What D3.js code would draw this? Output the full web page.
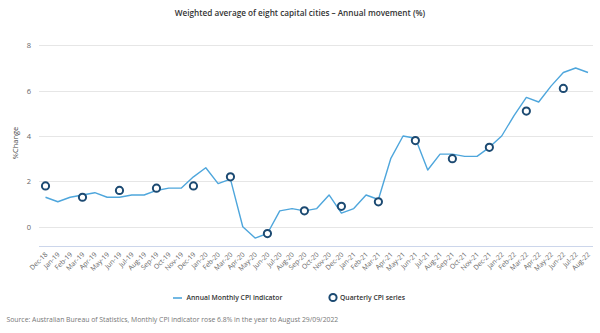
<!DOCTYPE html>
<html><head><meta charset="utf-8">
<script src="https://cdn.jsdelivr.net/npm/d3@7"></script>
<style>
html,body{margin:0;padding:0;background:#fff;}
svg{display:block;font-family:"Open Sans","Noto Sans",sans-serif;}
</style></head>
<body><svg id="c" width="600" height="333"></svg>
<script>
const months = ['Dec-18','Jan-19','Feb-19','Mar-19','Apr-19','May-19','Jun-19','Jul-19','Aug-19','Sep-19','Oct-19','Nov-19','Dec-19',
'Jan-20','Feb-20','Mar-20','Apr-20','May-20','Jun-20','Jul-20','Aug-20','Sep-20','Oct-20','Nov-20','Dec-20',
'Jan-21','Feb-21','Mar-21','Apr-21','May-21','Jun-21','Jul-21','Aug-21','Sep-21','Oct-21','Nov-21','Dec-21',
'Jan-22','Feb-22','Mar-22','Apr-22','May-22','Jun-22','Jul-22','Aug-22'];
const monthly = [1.3,1.1,1.3,1.4,1.5,1.3,1.3,1.4,1.4,1.6,1.7,1.7,2.2,
2.6,1.9,2.1,0.0,-0.5,-0.3,0.7,0.8,0.7,0.8,1.4,0.6,
0.8,1.4,1.2,3.0,4.0,3.9,2.5,3.2,3.2,3.1,3.1,3.5,
4.0,4.9,5.7,5.5,6.2,6.8,7.0,6.8];
const quarters = ['Dec-18','Mar-19','Jun-19','Sep-19','Dec-19','Mar-20','Jun-20','Sep-20','Dec-20','Mar-21','Jun-21','Sep-21','Dec-21','Mar-22','Jun-22'];
const quarterly = [1.8,1.3,1.6,1.7,1.8,2.2,-0.3,0.7,0.9,1.1,3.8,3.0,3.5,5.1,6.1];
const yTicks = [0,2,4,6,8];
const titleText = 'Weighted average of eight capital cities \u2013 Annual movement (%)';
const yTitle = '%Change';
const seriesNames = ['Annual Monthly CPI indicator','Quarterly CPI series'];
const sourceText = 'Source: Australian Bureau of Statistics, Monthly CPI indicator rose 6.8% in the year to August 29/09/2022';

const svg = d3.select('#c');
const lineColor = '#4ea6dc', dotColor = '#1c4a72';
const x = d3.scalePoint().domain(months).range([45.5, 588]);
const y = d3.scaleLinear().domain([-0.85, 8]).range([246, 45.3]);
const plotL = 39, plotR = 593;

// gridlines
svg.append('g').selectAll('line').data(yTicks).join('line')
  .attr('x1', plotL).attr('x2', plotR)
  .attr('y1', d => Math.round(y(d)) + 0.5).attr('y2', d => Math.round(y(d)) + 0.5)
  .attr('stroke', '#e6e6e6').attr('stroke-width', 1);

// y axis labels
const yAxis = d3.axisLeft(y).tickValues(yTicks).tickSize(0).tickPadding(0).tickFormat(d3.format('d'));
const gy = svg.append('g').attr('transform', `translate(31,0)`).call(yAxis);
gy.select('.domain').remove();
gy.selectAll('text').attr('fill', '#666').style('font-size', '7.5px').style('font-family', '"Open Sans",sans-serif');

// x axis
const xAxis = d3.axisBottom(x).tickSize(0).tickPadding(0);
const gx = svg.append('g').attr('transform', `translate(0,${246})`).call(xAxis);
gx.select('.domain').attr('d', `M${plotL},0.5H${plotR}`).attr('stroke', '#ccd6eb');
gx.selectAll('text')
  .attr('fill', '#666').style('font-size', '6.8px').style('font-family', '"Open Sans",sans-serif')
  .attr('text-anchor', 'end').attr('dy', null).attr('y', 0)
  .attr('transform', 'translate(2,9) rotate(-45)');

// y title
svg.append('text').attr('transform', 'translate(18,143) rotate(-90)')
  .attr('text-anchor', 'middle').attr('fill', '#444').style('font-size', '7.5px').text(yTitle);

// line
svg.append('path').datum(monthly)
  .attr('fill', 'none').attr('stroke', lineColor).attr('stroke-width', 1.4).attr('stroke-linejoin', 'round')
  .attr('d', d3.line().x((d, i) => x(months[i])).y(d => y(d)));

// quarterly dots
svg.append('g').selectAll('circle').data(quarterly).join('circle')
  .attr('cx', (d, i) => x(quarters[i])).attr('cy', d => y(d)).attr('r', 3.6)
  .attr('fill', '#fff').attr('stroke', dotColor).attr('stroke-width', 2);

// title
svg.append('text').attr('x', 300).attr('y', 16).attr('text-anchor', 'middle')
  .attr('fill', '#333').style('font-size', '8.2px').style('font-weight', 600).text(titleText);

// legend
const lg = svg.append('g');
lg.append('line').attr('x1', 173).attr('x2', 182).attr('y1', 298).attr('y2', 298)
  .attr('stroke', lineColor).attr('stroke-width', 1.6);
lg.append('text').attr('x', 186.5).attr('y', 300.4).attr('fill', '#333')
  .style('font-size', '6.8px').style('font-weight', 600).text(seriesNames[0]);
lg.append('circle').attr('cx', 333).attr('cy', 297.5).attr('r', 3.6)
  .attr('fill', '#fff').attr('stroke', dotColor).attr('stroke-width', 2);
lg.append('text').attr('x', 340).attr('y', 300.4).attr('fill', '#333')
  .style('font-size', '6.8px').style('font-weight', 600).text(seriesNames[1]);

// source
svg.append('text').attr('x', 6.5).attr('y', 321.5).attr('fill', '#777')
  .style('font-size', '6.85px').text(sourceText);
</script></body></html>
